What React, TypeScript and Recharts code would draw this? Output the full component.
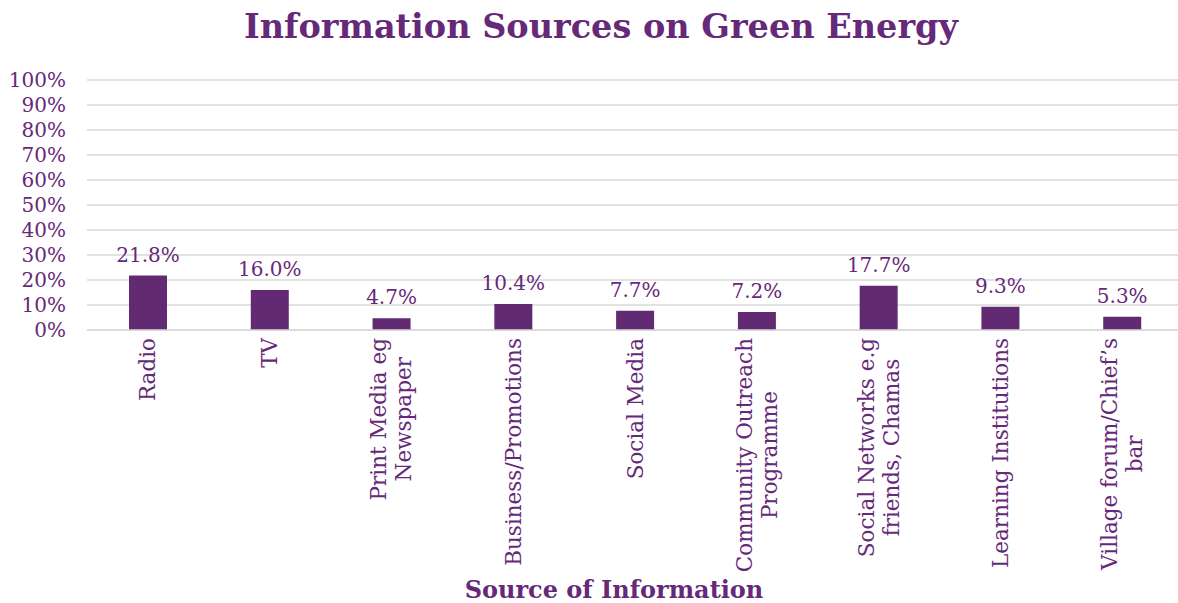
import React from 'react';
import { BarChart, Bar, XAxis, YAxis, CartesianGrid, LabelList } from 'recharts';

const sources = [
  'Radio',
  'TV',
  'Print Media eg\nNewspaper',
  'Business/Promotions',
  'Social Media',
  'Community Outreach\nProgramme',
  'Social Networks e.g\nfriends, Chamas',
  'Learning Institutions',
  'Village forum/Chief’s\nbar',
];
const shares = [21.8, 16.0, 4.7, 10.4, 7.7, 7.2, 17.7, 9.3, 5.3];
const yTicks = [0, 10, 20, 30, 40, 50, 60, 70, 80, 90, 100];

const FONT = '"DejaVu Serif", Georgia, serif';
const TEXT = '#66297a';
const BAR = '#622a73';
const NUM_SIZE = 20;
const CAT_SIZE = 21.5;

const data = sources.map((s, i) => ({ source: s, share: shares[i] }));

let ctx: CanvasRenderingContext2D | null = null;
const measure = (s: string) => {
  if (!ctx) ctx = document.createElement('canvas').getContext('2d');
  if (!ctx) return s.length * CAT_SIZE * 0.55;
  ctx.font = `${CAT_SIZE}px ${FONT}`;
  return ctx.measureText(s).width;
};

// rotated labels, lines centred on each other, block top just under the axis
const CategoryTick = (props: any) => {
  const { x, y, payload } = props;
  const lines = String(payload.value).split('\n');
  const maxW = Math.max(...lines.map(measure));
  const lineH = 25;
  return (
    <g transform={`translate(${x},${y})`}>
      {lines.map((ln, i) => (
        <text
          key={i}
          transform="rotate(-90)"
          x={-(maxW / 2)}
          y={(i - (lines.length - 1) / 2) * lineH}
          dy="0.35em"
          textAnchor="middle"
          fill={TEXT}
          fontFamily={FONT}
          fontSize={CAT_SIZE}
        >
          {ln}
        </text>
      ))}
    </g>
  );
};

export default function App() {
  return (
    <div style={{ position: 'absolute', left: 0, top: 0, width: 1178, height: 603, overflow: 'hidden', background: '#fff' }}>
      <div
        style={{
          position: 'absolute',
          left: 0,
          width: 1202,
          top: 7,
          textAlign: 'center',
          fontFamily: FONT,
          fontWeight: 'bold',
          fontSize: 33.5,
          lineHeight: '40px',
          color: TEXT,
        }}
      >
        Information Sources on Green Energy
      </div>
      <div
        style={{
          position: 'absolute',
          left: 0,
          width: 1228,
          top: 578,
          textAlign: 'center',
          fontFamily: FONT,
          fontWeight: 'bold',
          fontSize: 24,
          lineHeight: '24px',
          color: TEXT,
        }}
      >
        Source of Information
      </div>
      <BarChart
        width={1190}
        height={603}
        data={data}
        margin={{ top: 80, right: 7, bottom: 0, left: 0 }}
        barCategoryGap={0}
        style={{ position: 'absolute', left: 0, top: 0 }}
      >
        <CartesianGrid vertical={false} stroke="#d9d9d9" strokeWidth={1.5} />
        <XAxis
          dataKey="source"
          height={273}
          interval={0}
          axisLine={{ stroke: '#d9d9d9', strokeWidth: 1.5 }}
          tickLine={false}
          tick={<CategoryTick />}
        />
        <YAxis
          domain={[0, 100]}
          ticks={yTicks}
          interval={0}
          width={87}
          axisLine={false}
          tickLine={false}
          tickSize={0}
          tickMargin={21}
          tickFormatter={(v: number) => `${v}%`}
          tick={{ fill: TEXT, fontFamily: FONT, fontSize: NUM_SIZE }}
        />
        <Bar dataKey="share" fill={BAR} barSize={38} isAnimationActive={false}>
          <LabelList
            dataKey="share"
            position="top"
            offset={14}
            formatter={(v: number) => `${v.toFixed(1)}%`}
            fill={TEXT}
            fontFamily={FONT}
            fontSize={NUM_SIZE}
          />
        </Bar>
      </BarChart>
    </div>
  );
}
